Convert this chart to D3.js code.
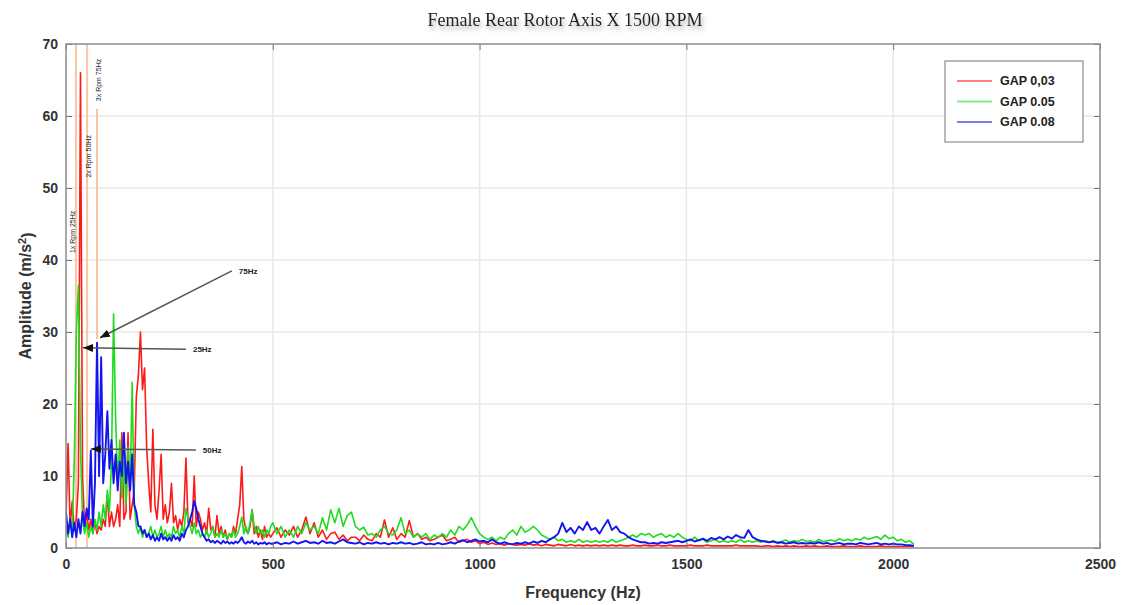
<!DOCTYPE html>
<html>
<head>
<meta charset="utf-8">
<script src="https://cdn.jsdelivr.net/npm/d3@7"></script>
<style>
  body { margin: 0; background: #fff; }
  text { font-family: "Liberation Sans", Arial, sans-serif; }
</style>
</head>
<body>
<svg width="1128" height="605"></svg>
<script>
// Spectrum frequency bins (Hz)
const freqLow = [
  0, 5, 10, 15, 20, 25, 30, 35, 40, 45,
  50, 55, 60, 65, 70, 75, 80, 85, 90, 95,
  100, 105, 110, 115, 120, 125, 130, 135, 140, 145,
  150, 155, 160, 165, 170, 175, 180, 185, 190, 195,
  200, 205, 210, 215, 220, 225, 230, 235, 240, 245,
  250, 255, 260, 265, 270, 275, 280, 285, 290, 295,
  300, 305, 310, 315, 320, 325, 330, 335, 340, 345,
  350, 355, 360, 365, 370, 375, 380, 385, 390, 395,
  400, 405, 410, 415, 420, 425, 430, 435, 440, 445,
  450, 455, 460, 465, 470, 475, 480, 485, 490, 495
];
const freqHigh = [
  500, 510, 520, 530, 540, 550, 560, 570, 580, 590,
  600, 610, 620, 630, 640, 650, 660, 670, 680, 690,
  700, 710, 720, 730, 740, 750, 760, 770, 780, 790,
  800, 810, 820, 830, 840, 850, 860, 870, 880, 890,
  900, 910, 920, 930, 940, 950, 960, 970, 980, 990,
  1000, 1010, 1020, 1030, 1040, 1050, 1060, 1070, 1080, 1090,
  1100, 1110, 1120, 1130, 1140, 1150, 1160, 1170, 1180, 1190,
  1200, 1210, 1220, 1230, 1240, 1250, 1260, 1270, 1280, 1290,
  1300, 1310, 1320, 1330, 1340, 1350, 1360, 1370, 1380, 1390,
  1400, 1410, 1420, 1430, 1440, 1450, 1460, 1470, 1480, 1490,
  1500, 1510, 1520, 1530, 1540, 1550, 1560, 1570, 1580, 1590,
  1600, 1610, 1620, 1630, 1640, 1650, 1660, 1670, 1680, 1690,
  1700, 1710, 1720, 1730, 1740, 1750, 1760, 1770, 1780, 1790,
  1800, 1810, 1820, 1830, 1840, 1850, 1860, 1870, 1880, 1890,
  1900, 1910, 1920, 1930, 1940, 1950, 1960, 1970, 1980, 1990,
  2000, 2010, 2020, 2030, 2040, 2050
];

// Amplitudes (m/s^2)
const gap003Low = [
  4, 14.5, 3, 6.5, 2.5, 4, 9, 66, 10, 3,
  5, 2.5, 4, 2, 3.5, 2, 3, 2.5, 4, 3,
  7.5, 3, 5, 3, 4, 6, 3, 16, 4, 5,
  16, 4, 6, 8, 21, 24, 30, 22, 25, 14,
  9, 5, 16.5, 6, 4, 8, 13, 4, 6, 3.5,
  5, 9, 3.5, 4.5, 2.5, 4, 3, 5, 12.5, 3.5,
  4, 3, 10, 3, 5, 4, 2.5, 3.5, 2, 5.5,
  2.5, 3, 1.5, 4.5, 2, 3, 1.5, 2.5, 1.2, 2,
  1.5, 3, 2, 4, 6, 11.3, 4, 2.5, 2, 3,
  5.3, 2, 3, 1.5, 2.5, 1.2, 3, 1.5, 2, 1.5
];
const gap003High = [
  2, 2.8, 1.5, 2.5, 1.8, 3, 1.5, 2.5, 4.3, 2,
  3.5, 1.5, 2.5, 1.2, 2, 2.2, 1.2, 1.8, 1, 1.5,
  1.5, 1, 1.8, 1.2, 1, 2, 1.5, 3.9, 1.5, 2.8,
  1.2, 2, 1.5, 3.8, 1.5, 2, 1.2, 1.5, 1, 1.2,
  1.5, 1.8, 1, 1.2, 1.5, 0.8, 1, 1.2, 0.8, 1,
  0.6, 0.8, 0.5, 0.7, 0.5, 0.6, 0.4, 0.6, 0.5, 0.4,
  0.5, 0.4, 0.6, 0.4, 0.5, 0.3, 0.5, 0.4, 0.3, 0.5,
  0.4, 0.3, 0.5, 0.3, 0.4, 0.3, 0.4, 0.3, 0.4, 0.3,
  0.4, 0.3, 0.4, 0.3, 0.4, 0.3, 0.3, 0.4, 0.3, 0.3,
  0.4, 0.3, 0.3, 0.4, 0.3, 0.3, 0.4, 0.3, 0.3, 0.3,
  0.3, 0.4, 0.3, 0.3, 0.3, 0.4, 0.3, 0.3, 0.3, 0.3,
  0.3, 0.3, 0.4, 0.3, 0.3, 0.3, 0.3, 0.3, 0.2, 0.3,
  0.3, 0.2, 0.3, 0.2, 0.3, 0.2, 0.3, 0.2, 0.2, 0.3,
  0.2, 0.3, 0.2, 0.2, 0.3, 0.2, 0.2, 0.2, 0.3, 0.2,
  0.2, 0.2, 0.3, 0.2, 0.2, 0.2, 0.2, 0.3, 0.2, 0.2,
  0.2, 0.2, 0.2, 0.2, 0.2, 0.2
];
const gap005Low = [
  3, 1.5, 4, 2, 12, 30, 36.5, 14, 4, 2,
  3.5, 1.5, 3, 2, 4, 2.5, 5, 3, 6, 4,
  8, 5, 12, 32.5, 18, 9, 15, 7, 12, 6,
  14, 8, 23, 6, 3, 2, 3, 1.5, 2.5, 1.5,
  2, 3, 1.5, 2.5, 1.5, 2, 3, 1.5, 2.5, 1.5,
  2, 1.5, 3, 2, 2.5, 1.5, 3, 2, 5.5, 4,
  3, 2, 3.5, 2, 2.5, 1.5, 2, 1.5, 2.5, 1.5,
  2, 3, 1.5, 2, 1.5, 2.5, 1.5, 2, 1.2, 2,
  1.5, 2.5, 1.5, 2, 3, 4.3, 2, 3, 2, 3.5,
  5.3, 3, 2, 3, 2, 2.5, 1.5, 2.5, 2, 3
];
const gap005High = [
  3.5, 2, 3, 1.5, 2.5, 1.5, 3, 2, 3.5, 2.5,
  3, 2, 4.2, 2.5, 5.3, 3.5, 5.5, 3, 4.5, 5,
  3, 2.5, 2.9, 1.8, 2, 1.5, 2.5, 3, 2, 1.8,
  2.5, 4.2, 2, 2.5, 1.5, 2, 1.5, 2, 1.2, 1.8,
  1.5, 2, 1.5, 2.5, 1.8, 3, 2.5, 3.2, 4.2, 3,
  2, 1.5, 1.2, 1.5, 1, 1.5, 1.2, 2, 2.5, 1.8,
  3, 2.2, 2.5, 3, 2.5, 1.8, 1.5, 1.2, 1.5, 1,
  1.2, 0.8, 1, 0.8, 1.2, 0.8, 1, 0.8, 1, 0.8,
  1, 0.8, 1.2, 0.8, 1, 1.2, 1.5, 1.8, 1.5, 2,
  1.8, 2, 1.5, 1.8, 2, 1.5, 1.8, 1.5, 2, 1.5,
  1.2, 1, 1.5, 1, 1.2, 0.8, 1, 1.2, 0.8, 1,
  0.8, 1, 0.8, 1.2, 0.8, 1, 0.8, 1, 0.8, 1,
  0.8, 1, 0.8, 0.9, 1.1, 0.8, 1, 0.9, 1.2, 0.9,
  1, 0.8, 1.2, 0.9, 1, 1.1, 0.9, 1.3, 1, 1.2,
  1, 1.3, 1.1, 1.5, 1.2, 1.4, 1.6, 1.2, 1.8, 1.3,
  1.5, 1, 1.2, 0.8, 1, 0.5
];
const gap008Low = [
  5, 2, 4, 1.5, 3.5, 1.5, 4, 2, 5, 3,
  5.5, 4, 13.5, 3, 9, 28.5, 10, 26.5, 9, 13,
  19, 11, 15, 9, 13, 8, 12, 10, 16, 9,
  12, 8, 13, 6, 5, 3, 3, 2, 2.5, 1.5,
  2, 1.2, 1.8, 1, 1.5, 1, 2, 1.2, 1.5, 1,
  1.5, 1, 1.8, 1.2, 1.5, 1, 2, 1.5, 2.5, 3,
  4, 5, 6.5, 5.5, 4, 3, 2, 1.5, 1, 1.2,
  0.8, 1, 0.7, 1, 0.8, 0.6, 1, 0.7, 0.9, 0.6,
  0.8, 0.6, 0.9, 0.7, 1, 1.5, 0.8, 0.6, 0.9, 0.7,
  1, 0.6, 0.8, 0.5, 0.7, 0.6, 0.8, 0.5, 0.7, 0.6
];
const gap008High = [
  0.6, 0.8, 0.5, 0.7, 0.6, 0.9, 0.6, 0.8, 1, 0.7,
  0.8, 0.6, 1, 0.7, 0.8, 0.6, 0.9, 1.2, 0.8, 0.7,
  0.6, 0.8, 0.5, 0.7, 0.6, 0.8, 0.6, 0.7, 0.5, 0.7,
  0.6, 0.8, 0.6, 0.7, 0.5, 0.6, 0.8, 0.5, 0.6, 0.5,
  0.7, 0.5, 0.6, 0.8, 0.6, 0.9, 1.1, 0.8, 1, 1.2,
  0.9, 1, 0.8, 1.2, 0.8, 0.6, 0.8, 0.6, 0.5, 0.7,
  0.6, 0.8, 0.6, 0.9, 0.7, 1, 0.8, 1.2, 1.5, 2,
  3.5, 2.2, 2.8, 2, 3, 2.5, 3.6, 2.5, 2.8, 2,
  3, 3.9, 2.5, 3, 2.2, 2, 1.5, 1.2, 1, 0.8,
  0.8, 0.6, 0.7, 0.6, 0.8, 0.7, 0.8, 0.9, 1, 0.8,
  1, 1.2, 0.9, 1.1, 1.3, 1, 1.4, 1.2, 1.5, 1.2,
  1.6, 1.3, 1.8, 1.5, 1.4, 2.5, 1.5, 1.2, 1, 0.9,
  0.8, 0.9, 0.7, 0.8, 0.6, 0.7, 0.8, 0.6, 0.7, 0.6,
  0.7, 0.6, 0.8, 0.6, 0.7, 0.5, 0.6, 0.7, 0.5, 0.6,
  0.6, 0.5, 0.7, 0.6, 0.5, 0.6, 0.7, 0.5, 0.6, 0.5,
  0.6, 0.5, 0.5, 0.4, 0.4, 0.3
];

const seriesNames = ["GAP 0,03", "GAP 0.05", "GAP 0.08"];
const seriesColors = ["#ff1a1a", "#1edc1e", "#1414f0"];

const xTicks = [0, 500, 1000, 1500, 2000, 2500];
const yTicks = [0, 10, 20, 30, 40, 50, 60, 70];

// shaft harmonics marked in the plot
const harmonicLabels = ["1x Rpm 25Hz", "2x Rpm 50Hz", "3x Rpm 75Hz"];
const harmonicHz = [24, 51, 75];
const harmonicTop = [70, 70, 61];
const harmonicBottom = [0, 0, 29];
const harmonicLabelHz = [17, 54, 78];
const harmonicLabelAmp = [43.9, 54.4, 65];

// arrow call-outs
const arrowLabels = ["75Hz", "25Hz", "50Hz"];
const arrowTipHz = [82, 41, 60];
const arrowTipAmp = [29.2, 27.8, 13.75];
const arrowTailHz = [401, 290, 314];
const arrowTailAmp = [38.5, 27.6, 13.6];

const svg = d3.select("svg");

let margin = {top: 44, right: 28, bottom: 57, left: 66},
    plotWidth = 1128 - margin.left - margin.right,
    plotHeight = 605 - margin.top - margin.bottom;

const x = d3.scaleLinear().domain([0, 2500]).range([0, plotWidth]);
const y = d3.scaleLinear().domain([0, 70]).range([plotHeight, 0]);

const defs = svg.append("defs");
defs.append("clipPath").attr("id", "plotClip")
    .append("rect").attr("width", plotWidth).attr("height", plotHeight);

const shadow = defs.append("filter").attr("id", "titleShadow")
    .attr("x", "-10%").attr("y", "-50%").attr("width", "120%").attr("height", "220%");
shadow.append("feDropShadow")
    .attr("dx", 2).attr("dy", 4).attr("stdDeviation", 2.2)
    .attr("flood-color", "#777").attr("flood-opacity", 0.55);

defs.append("marker").attr("id", "arrowHead")
    .attr("viewBox", "0 0 10 8").attr("refX", 10).attr("refY", 4)
    .attr("markerWidth", 10).attr("markerHeight", 8)
    .attr("markerUnits", "userSpaceOnUse")
    .attr("orient", "auto")
    .append("path").attr("d", "M0,0 L10,4 L0,8 z").attr("fill", "#111");

// title
svg.append("text")
    .attr("x", 565).attr("y", 26)
    .attr("text-anchor", "middle")
    .style("font-family", "'Liberation Serif', 'Times New Roman', serif")
    .attr("font-size", "18px")
    .attr("fill", "#222")
    .attr("filter", "url(#titleShadow)")
    .text("Female Rear Rotor Axis X 1500 RPM");

const g = svg.append("g")
    .attr("transform", `translate(${margin.left}, ${margin.top})`);

g.append("rect").attr("width", plotWidth).attr("height", plotHeight).attr("fill", "#fff");

// grid
g.append("g").selectAll("line").data(xTicks.slice(1, -1)).enter().append("line")
    .attr("x1", d => x(d)).attr("x2", d => x(d))
    .attr("y1", 0).attr("y2", plotHeight)
    .attr("stroke", "#e8e8e8").attr("stroke-width", 1.5);
g.append("g").selectAll("line").data(yTicks.slice(1, -1)).enter().append("line")
    .attr("x1", 0).attr("x2", plotWidth)
    .attr("y1", d => y(d)).attr("y2", d => y(d))
    .attr("stroke", "#e8e8e8").attr("stroke-width", 1.5);

// harmonic marker lines
const plotArea = g.append("g").attr("clip-path", "url(#plotClip)");
harmonicHz.forEach((hz, i) => {
    plotArea.append("line")
        .attr("x1", x(hz)).attr("x2", x(hz))
        .attr("y1", y(harmonicTop[i])).attr("y2", y(harmonicBottom[i]))
        .attr("stroke", "#f8c6a2").attr("stroke-width", 2);
});

// spectra
const allFreq = freqLow.concat(freqHigh);
const seriesAmps = [
    gap003Low.concat(gap003High),
    gap005Low.concat(gap005High),
    gap008Low.concat(gap008High)
];
const line = d3.line().x(d => x(d[0])).y(d => y(d[1]));

seriesAmps.forEach((amps, i) => {
    plotArea.append("path")
        .datum(allFreq.map((f, k) => [f, amps[k]]))
        .attr("d", line)
        .attr("fill", "none")
        .attr("stroke", seriesColors[i])
        .attr("stroke-width", i === 2 ? 1.9 : 1.6)
        .attr("stroke-linejoin", "round");
});

// harmonic labels (vertical)
harmonicLabels.forEach((label, i) => {
    const lx = x(harmonicLabelHz[i]), ly = y(harmonicLabelAmp[i]);
    g.append("text")
        .attr("transform", `translate(${lx}, ${ly}) rotate(-90)`)
        .attr("text-anchor", "middle")
        .attr("dy", "0.35em")
        .attr("font-size", "7px")
        .attr("fill", "#223")
        .text(label);
});

// arrows
arrowLabels.forEach((label, i) => {
    g.append("line")
        .attr("x1", x(arrowTailHz[i])).attr("y1", y(arrowTailAmp[i]))
        .attr("x2", x(arrowTipHz[i])).attr("y2", y(arrowTipAmp[i]))
        .attr("stroke", "#555").attr("stroke-width", 1.5)
        .attr("marker-end", "url(#arrowHead)");
    g.append("text")
        .attr("x", x(arrowTailHz[i]) + 7)
        .attr("y", y(arrowTailAmp[i]))
        .attr("dy", "0.35em")
        .attr("font-size", "8px")
        .attr("font-weight", "bold")
        .attr("fill", "#222")
        .text(label);
});

// axes (ticks pointing inward, as in the original)
const tickStyle = sel => {
    sel.select(".domain").remove();
    sel.selectAll(".tick line").attr("stroke", "#777");
    sel.selectAll(".tick text")
        .attr("font-size", "14px")
        .attr("font-weight", "bold")
        .attr("fill", "#333")
        .style("font-family", "'Liberation Sans', Arial, sans-serif");
};

g.append("g")
    .attr("transform", `translate(0, ${plotHeight})`)
    .call(d3.axisBottom(x).tickValues(xTicks).tickSize(-6).tickPadding(11).tickFormat(d3.format("d")))
    .call(tickStyle);
g.append("g")
    .call(d3.axisLeft(y).tickValues(yTicks).tickSize(-6).tickPadding(8))
    .call(tickStyle);
g.append("g")
    .call(d3.axisTop(x).tickValues(xTicks).tickSize(-6).tickFormat(""))
    .call(tickStyle);
g.append("g")
    .attr("transform", `translate(${plotWidth}, 0)`)
    .call(d3.axisRight(y).tickValues(yTicks).tickSize(-6).tickFormat(""))
    .call(tickStyle);

// frame
g.append("rect")
    .attr("width", plotWidth).attr("height", plotHeight)
    .attr("fill", "none").attr("stroke", "#8c8c8c").attr("stroke-width", 1.5);

// axis titles
svg.append("text")
    .attr("x", margin.left + plotWidth / 2)
    .attr("y", 598)
    .attr("text-anchor", "middle")
    .attr("font-size", "16px")
    .attr("font-weight", "bold")
    .attr("fill", "#333")
    .text("Frequency (Hz)");

const yTitle = svg.append("text")
    .attr("transform", `translate(31, ${margin.top + plotHeight / 2}) rotate(-90)`)
    .attr("text-anchor", "middle")
    .attr("font-size", "16px")
    .attr("font-weight", "bold")
    .attr("fill", "#333");
yTitle.append("tspan").text("Amplitude (m/s");
yTitle.append("tspan").attr("dy", "-0.45em").attr("font-size", "11px").text("2");
yTitle.append("tspan").attr("dy", "0.45em").text(")");

// legend
const legend = svg.append("g").attr("transform", "translate(945, 61)");
legend.append("rect")
    .attr("width", 138).attr("height", 81)
    .attr("fill", "#fff").attr("stroke", "#8c8c8c").attr("stroke-width", 1.2);
seriesNames.forEach((name, i) => {
    const ly = 20 + i * 20.5;
    legend.append("line")
        .attr("x1", 12).attr("x2", 47).attr("y1", ly).attr("y2", ly)
        .attr("stroke", seriesColors[i]).attr("stroke-opacity", 0.55).attr("stroke-width", 2);
    legend.append("text")
        .attr("x", 55).attr("y", ly).attr("dy", "0.35em")
        .attr("font-size", "12.5px").attr("font-weight", "bold").attr("fill", "#222")
        .text(name);
});
</script>
</body>
</html>
